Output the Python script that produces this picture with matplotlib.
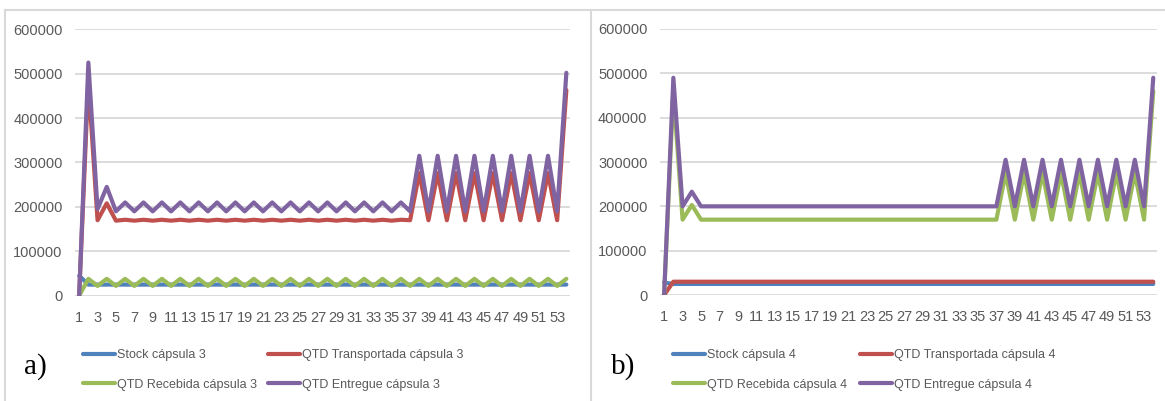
import matplotlib
matplotlib.use("Agg")
import matplotlib.pyplot as plt
from matplotlib.lines import Line2D

plt.rcParams['font.family'] = ['Liberation Sans', 'DejaVu Sans']

# categories (periods)
periods = list(range(1, 55))
tick_periods = list(range(1, 55, 2))

# ---- panel a) capsule 3 ----
stock_a = [
    45000, 25000, 25000, 25000, 25000, 25000, 25000, 25000, 25000, 25000,
    25000, 25000, 25000, 25000, 25000, 25000, 25000, 25000, 25000, 25000,
    25000, 25000, 25000, 25000, 25000, 25000, 25000, 25000, 25000, 25000,
    25000, 25000, 25000, 25000, 25000, 25000, 25000, 25000, 25000, 25000,
    25000, 25000, 25000, 25000, 25000, 25000, 25000, 25000, 25000, 25000,
    25000, 25000, 25000, 25000,
]
transp_a = [
    0, 485000, 170000, 208000, 169000, 171000, 169000, 171000, 169000, 171000,
    169000, 171000, 169000, 171000, 169000, 171000, 169000, 171000, 169000, 171000,
    169000, 171000, 169000, 171000, 169000, 171000, 169000, 171000, 169000, 171000,
    169000, 171000, 169000, 171000, 169000, 171000, 170000, 276000, 170000, 276000,
    170000, 276000, 170000, 276000, 170000, 276000, 170000, 276000, 170000, 276000,
    170000, 276000, 170000, 463000,
]
receb_a = [
    0, 38000, 22000, 38000, 22000, 38000, 22000, 38000, 22000, 38000,
    22000, 38000, 22000, 38000, 22000, 38000, 22000, 38000, 22000, 38000,
    22000, 38000, 22000, 38000, 22000, 38000, 22000, 38000, 22000, 38000,
    22000, 38000, 22000, 38000, 22000, 38000, 22000, 38000, 22000, 38000,
    22000, 38000, 22000, 38000, 22000, 38000, 22000, 38000, 22000, 38000,
    22000, 38000, 22000, 38000,
]
entreg_a = [
    0, 525000, 195000, 245000, 190000, 210000, 190000, 210000, 190000, 210000,
    190000, 210000, 190000, 210000, 190000, 210000, 190000, 210000, 190000, 210000,
    190000, 210000, 190000, 210000, 190000, 210000, 190000, 210000, 190000, 210000,
    190000, 210000, 190000, 210000, 190000, 210000, 190000, 315000, 190000, 315000,
    190000, 315000, 190000, 315000, 190000, 315000, 190000, 315000, 190000, 315000,
    190000, 315000, 190000, 502000,
]

# ---- panel b) capsule 4 ----
stock_b = [
    28000, 25000, 25000, 25000, 25000, 25000, 25000, 25000, 25000, 25000,
    25000, 25000, 25000, 25000, 25000, 25000, 25000, 25000, 25000, 25000,
    25000, 25000, 25000, 25000, 25000, 25000, 25000, 25000, 25000, 25000,
    25000, 25000, 25000, 25000, 25000, 25000, 25000, 25000, 25000, 25000,
    25000, 25000, 25000, 25000, 25000, 25000, 25000, 25000, 25000, 25000,
    25000, 25000, 25000, 25000,
]
transp_b = [
    0, 30000, 30000, 30000, 30000, 30000, 30000, 30000, 30000, 30000,
    30000, 30000, 30000, 30000, 30000, 30000, 30000, 30000, 30000, 30000,
    30000, 30000, 30000, 30000, 30000, 30000, 30000, 30000, 30000, 30000,
    30000, 30000, 30000, 30000, 30000, 30000, 30000, 30000, 30000, 30000,
    30000, 30000, 30000, 30000, 30000, 30000, 30000, 30000, 30000, 30000,
    30000, 30000, 30000, 30000,
]
receb_b = [
    0, 460000, 170000, 203000, 170000, 170000, 170000, 170000, 170000, 170000,
    170000, 170000, 170000, 170000, 170000, 170000, 170000, 170000, 170000, 170000,
    170000, 170000, 170000, 170000, 170000, 170000, 170000, 170000, 170000, 170000,
    170000, 170000, 170000, 170000, 170000, 170000, 170000, 275000, 170000, 275000,
    170000, 275000, 170000, 275000, 170000, 275000, 170000, 275000, 170000, 275000,
    170000, 275000, 170000, 460000,
]
entreg_b = [
    0, 490000, 200000, 233000, 200000, 200000, 200000, 200000, 200000, 200000,
    200000, 200000, 200000, 200000, 200000, 200000, 200000, 200000, 200000, 200000,
    200000, 200000, 200000, 200000, 200000, 200000, 200000, 200000, 200000, 200000,
    200000, 200000, 200000, 200000, 200000, 200000, 200000, 305000, 200000, 305000,
    200000, 305000, 200000, 305000, 200000, 305000, 200000, 305000, 200000, 305000,
    200000, 305000, 200000, 490000,
]

series_colors = ['#4F81BD', '#C0504D', '#9BBB59', '#8064A2']
label_names = ['Stock cápsula {}', 'QTD Transportada cápsula {}',
               'QTD Recebida cápsula {}', 'QTD Entregue cápsula {}']

panels = [
    ('a)', 3, [stock_a, transp_a, receb_a, entreg_a], [0.0644, 0.2626, 0.4249, 0.6644]),
    ('b)', 4, [stock_b, transp_b, receb_b, entreg_b], [0.5665, 0.2643, 0.4266, 0.6634]),
]

fig = plt.figure(figsize=(11.65, 4.01), dpi=100, facecolor='white')

# light frames around the two excel charts
W, H = 1165, 401
border = dict(color='#D9D9D9', lw=1.5, transform=fig.transFigure)
fig.add_artist(Line2D([5 / W, 5 / W], [0, 1 - 10 / H], **border))
fig.add_artist(Line2D([591 / W, 591 / W], [0, 1 - 10 / H], **border))
fig.add_artist(Line2D([5 / W, 1], [1 - 10 / H, 1 - 10 / H], **border))

# legend column anchors (left column, right column) per panel
legend_cols = [(0.0712, 0.2300), (0.5777, 0.7380)]
tag_x = [0.021, 0.524]

for i, (tag, caps, data, rect) in enumerate(panels):
    ax = fig.add_axes(rect)
    handles = []
    for vals, col, name in zip(data, series_colors, label_names):
        ln, = ax.plot(periods, vals, color=col, lw=3.0,
                      solid_joinstyle='round', solid_capstyle='round',
                      label=name.format(caps))
        handles.append(ln)

    ax.set_xlim(0.55, 54.4)
    ax.set_ylim(0, 600000)
    ax.set_yticks(range(0, 600001, 100000))
    ax.set_xticks(tick_periods)
    ax.set_xticklabels([str(p) for p in tick_periods])
    ax.yaxis.grid(True, color='#D9D9D9', lw=1.3)
    ax.set_axisbelow(True)
    for sp in ax.spines.values():
        sp.set_visible(False)
    ax.tick_params(axis='both', length=0, labelsize=10.5, colors='#595959')
    ax.tick_params(axis='y', pad=9)
    ax.tick_params(axis='x', pad=11)

    # two legend columns: (Stock, Recebida) left, (Transportada, Entregue) right
    legs = []
    for col_x, pair in zip(legend_cols[i], [(handles[0], handles[2]), (handles[1], handles[3])]):
        leg = ax.legend(handles=list(pair), loc='upper left',
                        bbox_to_anchor=(col_x, 0.129), bbox_transform=fig.transFigure,
                        frameon=False, fontsize=9, handlelength=2.55,
                        handletextpad=0.15, labelspacing=1.4,
                        borderaxespad=0, borderpad=0)
        for t in leg.get_texts():
            t.set_color('#595959')
        for lh in leg.get_lines():
            lh.set_linewidth(3.0)
        legs.append(leg)
    ax.add_artist(legs[0])

    fig.text(tag_x[i], 0.085, tag, family='Liberation Serif', fontsize=21,
             va='center', ha='left', color='black')

fig.savefig('out.png', dpi=100, facecolor='white')
